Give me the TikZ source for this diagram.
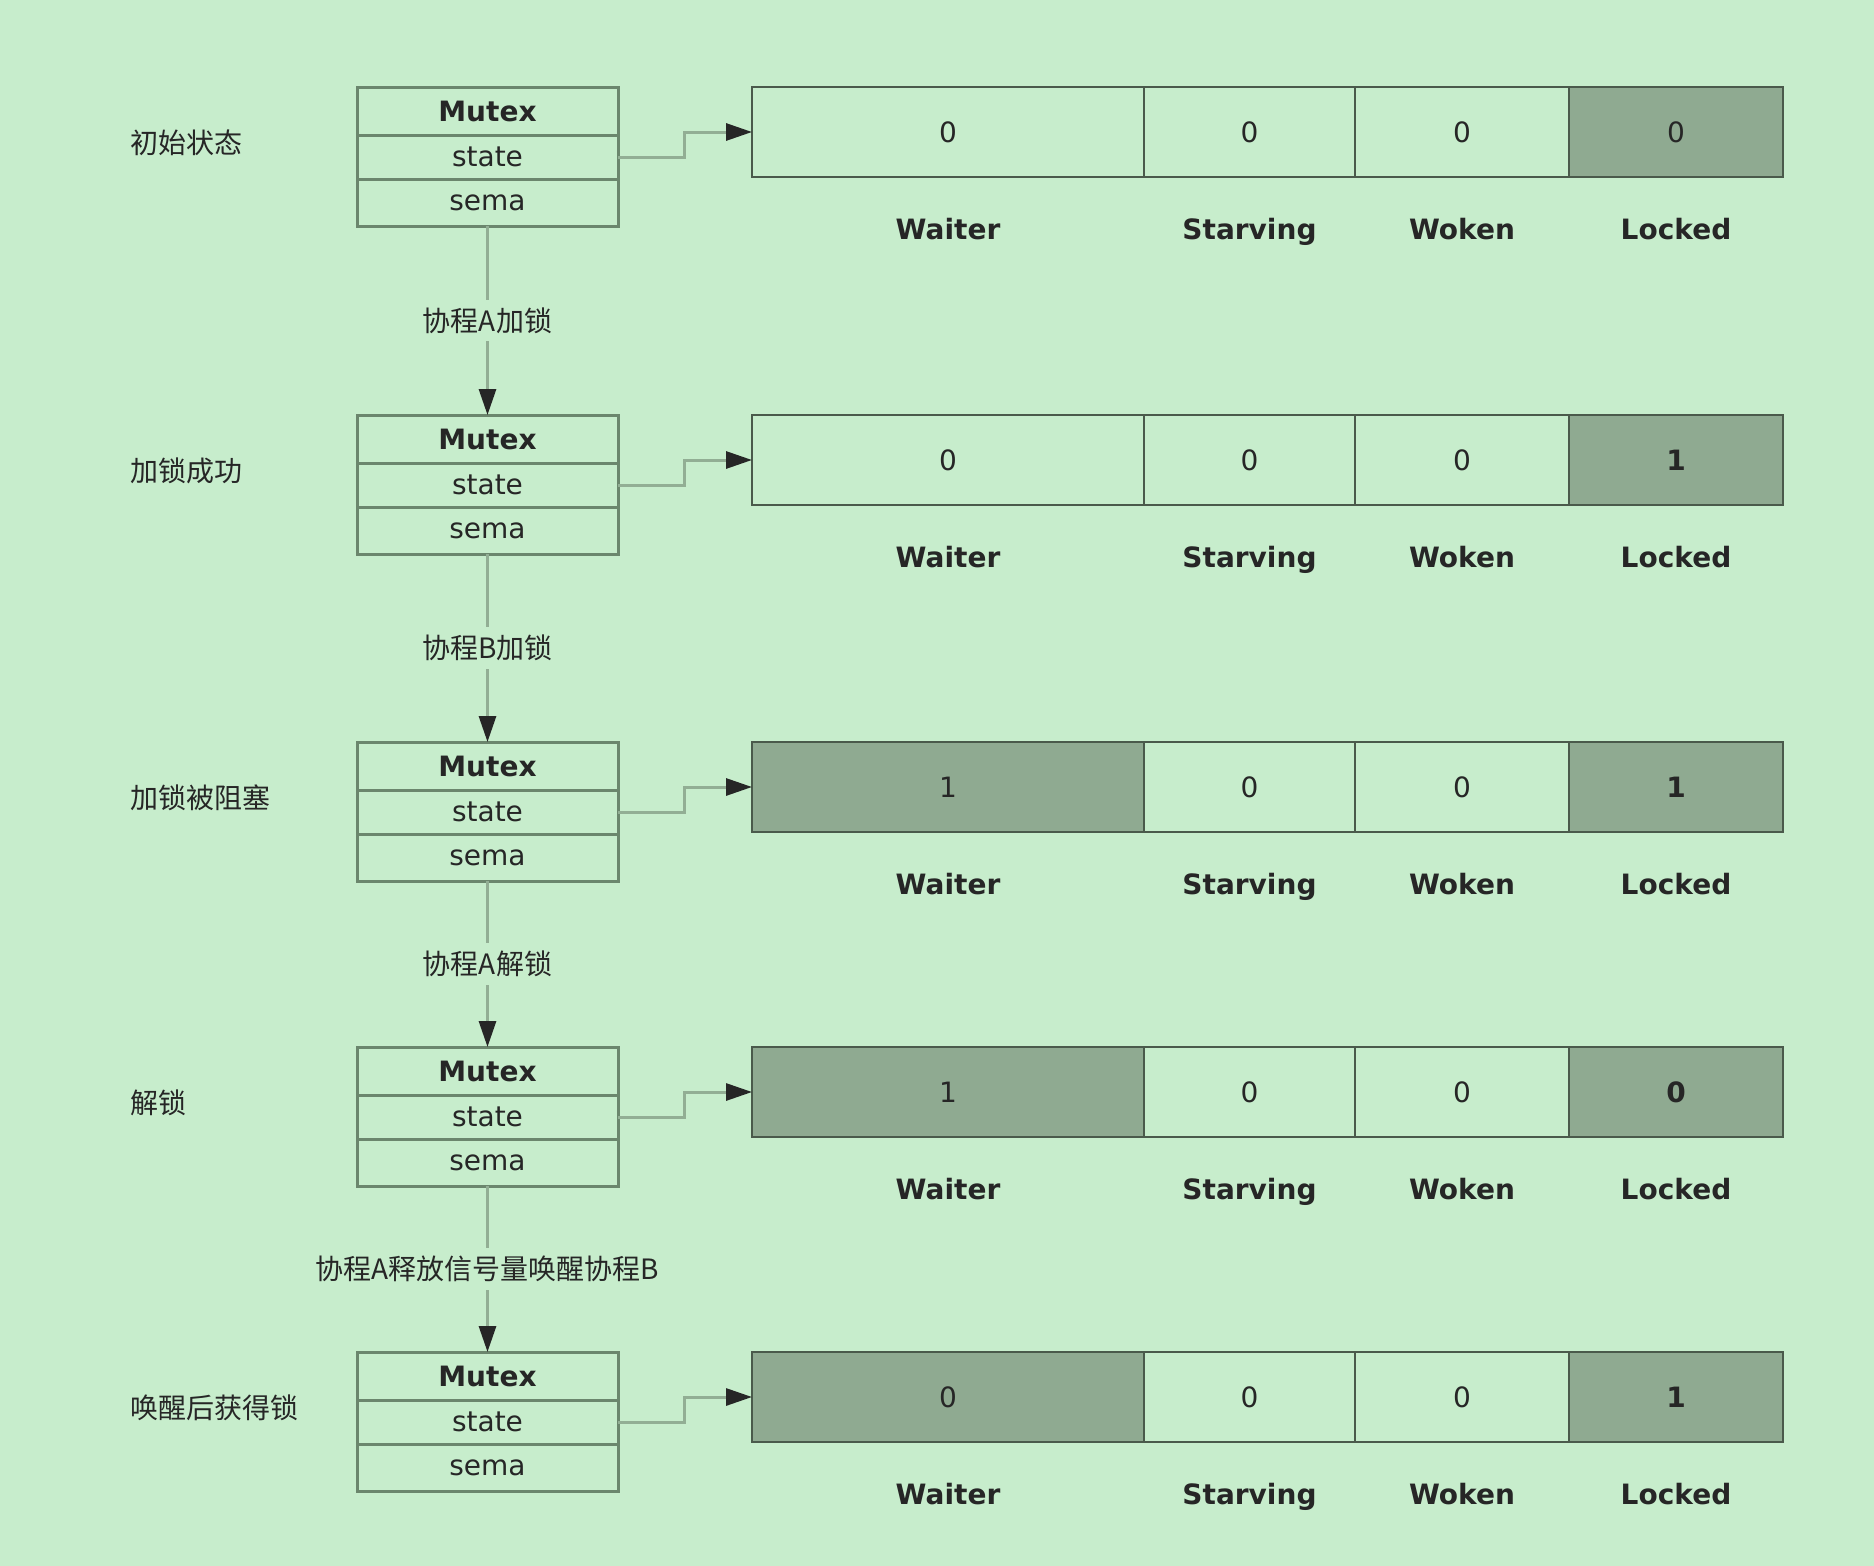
\documentclass[tikz,border=0pt]{standalone}
\usepackage{fontspec}
\setmainfont{DejaVu Sans}
\newfontfamily\cjk{Noto Sans CJK SC}
\usetikzlibrary{arrows.meta,positioning}
\definecolor{bg}{HTML}{C7EDCC}
\definecolor{bitOn}{HTML}{8FAA91}
\definecolor{boxline}{HTML}{6B866D}
\definecolor{bitline}{HTML}{4A5A4B}
\definecolor{wire}{HTML}{92AE94}
\definecolor{ink}{HTML}{262626}
\newcommand{\txtsize}{\fontsize{28}{30}\selectfont}
\tikzset{
  cell/.style={draw=boxline, line width=3pt, minimum width=261pt, inner sep=0pt,
    outer sep=0pt, font=\txtsize, text=ink},
  bit/.style={draw=bitline, line width=2pt, minimum height=90pt, inner sep=0pt,
    outer sep=0pt, text=ink, anchor=north west},
  biton/.style={bit, fill=bitOn},
  bitname/.style={font=\txtsize\bfseries, text=ink, text height=0.75em, text depth=0.25em},
  phase/.style={font=\txtsize\cjk, text=ink},
  link/.style={-{Triangle[width=17pt,length=26pt,color=ink]}, draw=wire, line width=3pt},
}
\begin{document}
\begin{tikzpicture}[x=1pt,y=-1pt]
  \fill[bg] (0,0) rectangle (1874,1566);
  \useasboundingbox (0,0) rectangle (1874,1566);
  \foreach \r/\top/\lab/\wv/\wf/\lv/\lw in {
      1/87/初始状态/0/bit/0/\mdseries,
      2/415/加锁成功/0/bit/1/\bfseries,
      3/742/加锁被阻塞/1/biton/1/\bfseries,
      4/1047/解锁/1/biton/0/\bfseries,
      5/1352/唤醒后获得锁/0/biton/1/\bfseries}
  {
    \node[phase, anchor=west] (phase\r) at (127,\top+56) {\lab};
    % mutex struct
    \node[cell, minimum height=48pt, anchor=north west, font=\txtsize\bfseries]
      (mutex\r) at (357,\top) {Mutex};
    \node[cell, minimum height=44pt, below=0pt of mutex\r] (state\r) {state};
    \node[cell, minimum height=47pt, below=0pt of state\r] (sema\r) {sema};
    % state bits
    \node[\wf, minimum width=392pt, font=\txtsize] (waiter\r) at (752,\top) {\wv};
    \node[bit, minimum width=211pt, font=\txtsize] (starving\r) at (waiter\r.north east) {0};
    \node[bit, minimum width=214pt, font=\txtsize] (woken\r) at (starving\r.north east) {0};
    \node[biton, minimum width=214pt, font=\txtsize\lw] (locked\r) at (woken\r.north east) {\lv};
    \node[bitname] (wname\r) at ([yshift=-60pt]waiter\r.south) {Waiter};
    \node[bitname] (sname\r) at ([yshift=-60pt]starving\r.south) {Starving};
    \node[bitname] (kname\r) at ([yshift=-60pt]woken\r.south) {Woken};
    \node[bitname] (lname\r) at ([yshift=-60pt]locked\r.south) {Locked};
    \draw[link] (state\r.east) -- ++(66,0) |- (waiter\r.west);
  }
  \foreach \a/\b/\txt in {1/2/协程A加锁, 2/3/协程B加锁, 3/4/协程A解锁,
      4/5/协程A释放信号量唤醒协程B}
    \draw[link] (sema\a.south) -- node[phase, fill=bg, inner sep=8pt] (act\a) {\txt}
      (mutex\b.north);
\end{tikzpicture}
\end{document}
